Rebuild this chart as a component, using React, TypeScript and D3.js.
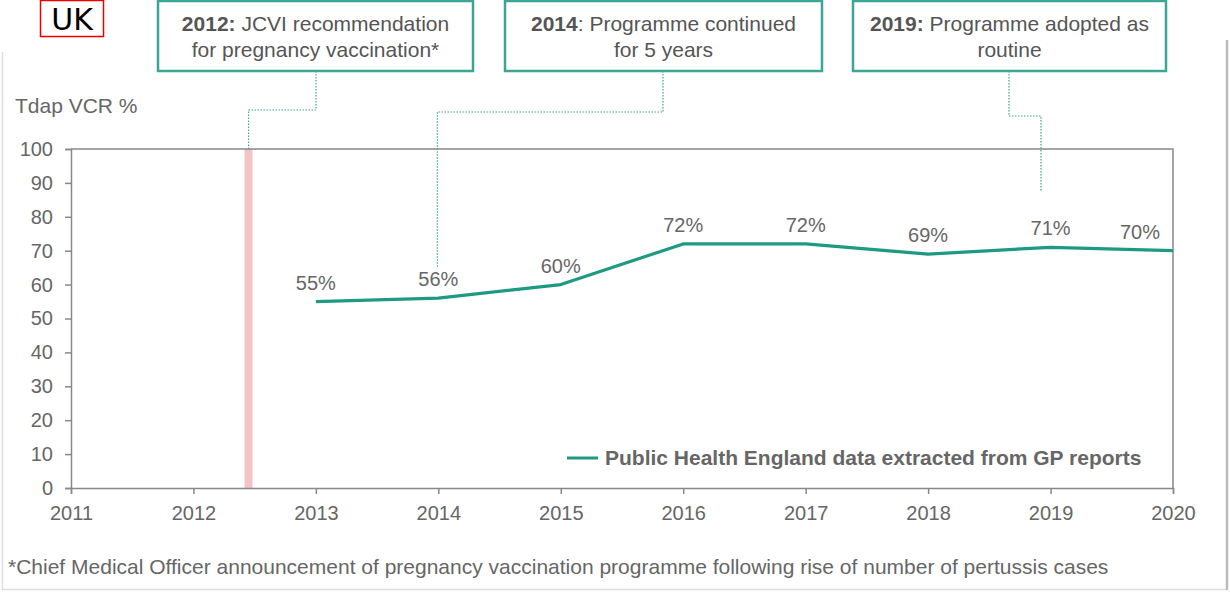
import React, { useEffect, useRef } from 'react';
import * as d3 from 'd3';

// data
const years = [2013, 2014, 2015, 2016, 2017, 2018, 2019, 2020];
const vcr = [55, 56, 60, 72, 72, 69, 71, 70];
const xTicks = [2011, 2012, 2013, 2014, 2015, 2016, 2017, 2018, 2019, 2020];
const yTicks = [0, 10, 20, 30, 40, 50, 60, 70, 80, 90, 100];
const jcviDate = 2012.45;
const boxYears = ['2012:', '2014', '2019:'];
const boxLine1 = [' JCVI recommendation', ': Programme continued', ' Programme adopted as'];
const boxLine2 = ['for pregnancy vaccination*', 'for 5 years', 'routine'];
const legendLabel = 'Public Health England data extracted from GP reports';
const footnote = '*Chief Medical Officer announcement of pregnancy vaccination programme following rise of number of pertussis cases';

const TEAL = '#1f9a82';
const BOX = '#3aa693';
const TXT = '#666';
const FONT = 'Liberation Sans, Arial, sans-serif';

const App: React.FC = () => {
  const svgRef = useRef<SVGSVGElement>(null);

  useEffect(() => {
    document.body.style.margin = '0';
    if (!svgRef.current) return;
    const svg = d3.select(svgRef.current);
    svg.selectAll('*').remove();

    const width = 1230;
    const height = 592;
    const x = d3.scaleLinear().domain([2011, 2020]).range([71, 1173]);
    const y = d3.scaleLinear().domain([0, 100]).range([488, 149]);

    svg.append('rect').attr('width', width).attr('height', height).attr('fill', '#fff');

    // outer frame
    svg.append('path')
      .attr('d', `M2.5,52 V589.5 H1227`)
      .attr('fill', 'none').attr('stroke', '#ddd').attr('stroke-width', 1.5);
    svg.append('line')
      .attr('x1', 1227).attr('x2', 1227).attr('y1', 40).attr('y2', 590)
      .attr('stroke', '#bbb').attr('stroke-width', 2.5);

    // UK tag
    svg.append('rect').attr('x', 40.5).attr('y', 0.5).attr('width', 63).attr('height', 36)
      .attr('fill', 'none').attr('stroke', '#e00').attr('stroke-width', 1.5);
    svg.append('text').attr('x', 72).attr('y', 30).attr('text-anchor', 'middle')
      .attr('font-family', 'DejaVu Sans, sans-serif').attr('font-size', 30).attr('fill', '#000')
      .text('UK');

    // JCVI marker band
    svg.append('rect')
      .attr('x', x(jcviDate) - 4).attr('width', 8)
      .attr('y', y(100)).attr('height', y(0) - y(100))
      .attr('fill', '#f2c4c4');

    // plot frame top/right
    svg.append('path')
      .attr('d', `M${x(2011)},${y(100)} H${x(2020)} V${y(0)}`)
      .attr('fill', 'none').attr('stroke', '#888').attr('stroke-width', 1.5);

    // axes
    const yAxis = svg.append('g')
      .attr('transform', `translate(${x(2011)},0)`)
      .call(d3.axisLeft(y).tickValues(yTicks).tickSize(6).tickPadding(12));
    const xAxis = svg.append('g')
      .attr('transform', `translate(0,${y(0)})`)
      .call(d3.axisBottom(x).tickValues(xTicks).tickFormat(d3.format('d')).tickSize(6).tickPadding(12));
    [yAxis, xAxis].forEach(ax => {
      ax.select('.domain').attr('stroke', '#888').attr('stroke-width', 1.5);
      ax.selectAll('.tick line').attr('stroke', '#888').attr('stroke-width', 1.5);
      ax.selectAll('.tick text').attr('fill', TXT).attr('font-size', 20).attr('font-family', FONT);
    });

    svg.append('text').attr('x', 15).attr('y', 113)
      .attr('font-family', FONT).attr('font-size', 21).attr('fill', TXT)
      .text('Tdap VCR %');

    // annotation boxes
    const boxX = [158, 505, 853];
    const boxW = [315, 317, 313];
    boxX.forEach((bx, i) => {
      svg.append('rect').attr('x', bx).attr('y', 1).attr('width', boxW[i]).attr('height', 70)
        .attr('fill', '#fff').attr('stroke', BOX).attr('stroke-width', 2.5);
      const cx = bx + boxW[i] / 2;
      const t1 = svg.append('text').attr('x', cx).attr('y', 31).attr('text-anchor', 'middle')
        .attr('font-family', FONT).attr('font-size', 21).attr('fill', '#555');
      t1.append('tspan').attr('font-weight', 'bold').text(boxYears[i]);
      t1.append('tspan').text(boxLine1[i]);
      svg.append('text').attr('x', cx).attr('y', 57).attr('text-anchor', 'middle')
        .attr('font-family', FONT).attr('font-size', 21).attr('fill', '#555')
        .text(boxLine2[i]);
    });

    // dotted connectors
    const connectors = [
      `M316,71 V110 H${x(jcviDate)} V${y(100)}`,
      `M663,71 V112 H${x(2014) - 1} V${y(56) - 30}`,
      `M1009,71 V116 H1041 V${y(100) + 43}`,
    ];
    connectors.forEach(d => {
      svg.append('path').attr('d', d).attr('fill', 'none')
        .attr('stroke', BOX).attr('stroke-width', 1.2).attr('stroke-dasharray', '1.5,1.5');
    });

    // data line
    const pts = years.map((yr, i) => [yr, vcr[i]] as [number, number]);
    svg.append('path')
      .datum(pts)
      .attr('d', d3.line<[number, number]>().x(d => x(d[0])).y(d => y(d[1])))
      .attr('fill', 'none').attr('stroke', TEAL).attr('stroke-width', 3.2)
      .attr('stroke-linejoin', 'round');

    // data labels
    svg.selectAll('.lbl')
      .data(pts)
      .enter()
      .append('text')
      .attr('class', 'lbl')
      .attr('x', (d, i) => x(d[0]) - (i === pts.length - 1 ? 33 : 0))
      .attr('y', d => y(d[1]) - 12)
      .attr('text-anchor', 'middle')
      .attr('font-family', FONT).attr('font-size', 20).attr('fill', TXT)
      .text(d => `${d[1]}%`);

    // legend
    svg.append('line').attr('x1', 567).attr('x2', 598).attr('y1', 458).attr('y2', 458)
      .attr('stroke', TEAL).attr('stroke-width', 3);
    svg.append('text').attr('x', 605).attr('y', 465)
      .attr('font-family', FONT).attr('font-size', 21).attr('font-weight', 'bold').attr('fill', TXT)
      .text(legendLabel);

    // footnote
    svg.append('text').attr('x', 8).attr('y', 574)
      .attr('font-family', FONT).attr('font-size', 21).attr('fill', TXT)
      .text(footnote);
  }, []);

  return <svg ref={svgRef} width={1230} height={592} style={{ display: 'block' }} />;
};

export default App;
